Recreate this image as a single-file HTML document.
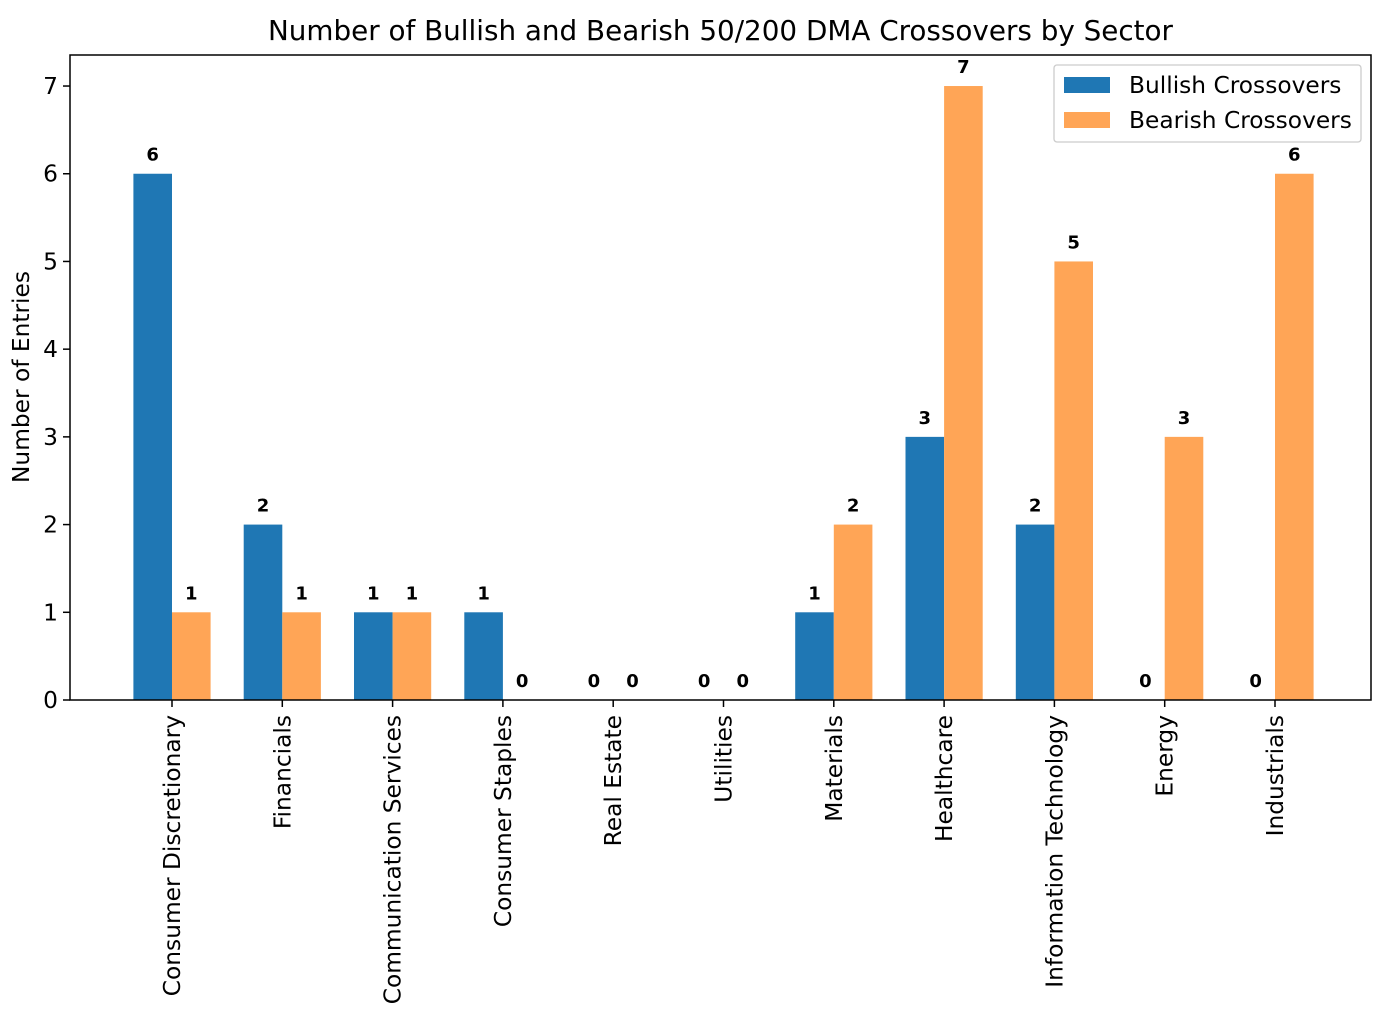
<!DOCTYPE html>
<html><head><meta charset="utf-8"><style>
body{margin:0;background:#fff;}
svg{display:block;font-family:"DejaVu Sans","Liberation Sans",sans-serif;}
</style></head><body>
<svg id="chart" width="1388" height="1014" viewBox="0 0 1388 1014" xmlns="http://www.w3.org/2000/svg"></svg>
<script>
const categories = ["Consumer Discretionary","Financials","Communication Services","Consumer Staples","Real Estate","Utilities","Materials","Healthcare","Information Technology","Energy","Industrials"];
const bullish = [6,2,1,1,0,0,1,3,2,0,0];
const bearish = [1,1,1,0,0,0,2,7,5,3,6];
const yTicks = [0,1,2,3,4,5,6,7];

const NS = "http://www.w3.org/2000/svg";
const svg = document.getElementById("chart");
const L = 70, R = 1371, T = 55, B = 700;
const step = 110.3, x0 = 172;
const bw = 38.6;
function xScale(i){ return x0 + i*step; }
function yScale(v){ return B - v*87.71; }
function mk(tag, attrs, parent){ const e = document.createElementNS(NS, tag); for (const k in attrs) e.setAttribute(k, attrs[k]); (parent||svg).appendChild(e); return e; }

const title = mk("text",{x:(L+R)/2,y:40,"text-anchor":"middle","font-size":"27.8"});


title.textContent = "Number of Bullish and Bearish 50/200 DMA Crossovers by Sector";

const yt = mk("text",{x:0,y:0,transform:"translate(29,377) rotate(-90)","text-anchor":"middle","font-size":"23.3"});


yt.textContent = "Number of Entries";

yTicks.forEach(v=>{
  const y = yScale(v);
  mk("line",{x1:L-7,x2:L,y1:y,y2:y,stroke:"#000","stroke-width":1.5});
  const t = mk("text",{x:L-12,y:y+8,"text-anchor":"end","font-size":"23.3"});
  
  
  t.textContent = v;
});

categories.forEach((c,i)=>{
  const cx = xScale(i);
  const vals = [bullish[i], bearish[i]];
  const colors = ["#1f77b4","#ffa556"];
  vals.forEach((v,j)=>{
    const bx = j===0 ? cx-bw : cx;
    const r = mk("rect",{x:bx,y:yScale(v),width:bw,height:B-yScale(v),fill:colors[j]});
    
    
    const t = mk("text",{x:bx+bw/2,y:yScale(v)-13,"text-anchor":"middle","font-size":"18","font-weight":"bold"});
    
    
    t.textContent = v;
  });
  mk("line",{x1:cx,x2:cx,y1:B,y2:B+7,stroke:"#000","stroke-width":1.5});
  const t = mk("text",{x:0,y:0,transform:`translate(${cx+8},${B+15}) rotate(-90)`,"text-anchor":"end","font-size":"23.3"});
  
  
  t.textContent = c;
});

const frame = mk("rect",{x:L,y:T,width:R-L,height:B-T,fill:"none",stroke:"#000","stroke-width":1.5});



const lg = mk("g",{});


mk("rect",{x:1054,y:65,width:307,height:77,rx:3,fill:"#fff",stroke:"#ccc","stroke-width":1.3},lg);
[["Bullish Crossovers","#1f77b4",85],["Bearish Crossovers","#ffa556",120]].forEach(([n,c,y])=>{
  const p = mk("rect",{x:1064,y:y-8,width:46,height:16,fill:c},lg);
  
  
  const t = mk("text",{x:1129,y:y+8,"font-size":"23.3"},lg);
  
  
  t.textContent = n;
});
</script>
</body></html>
